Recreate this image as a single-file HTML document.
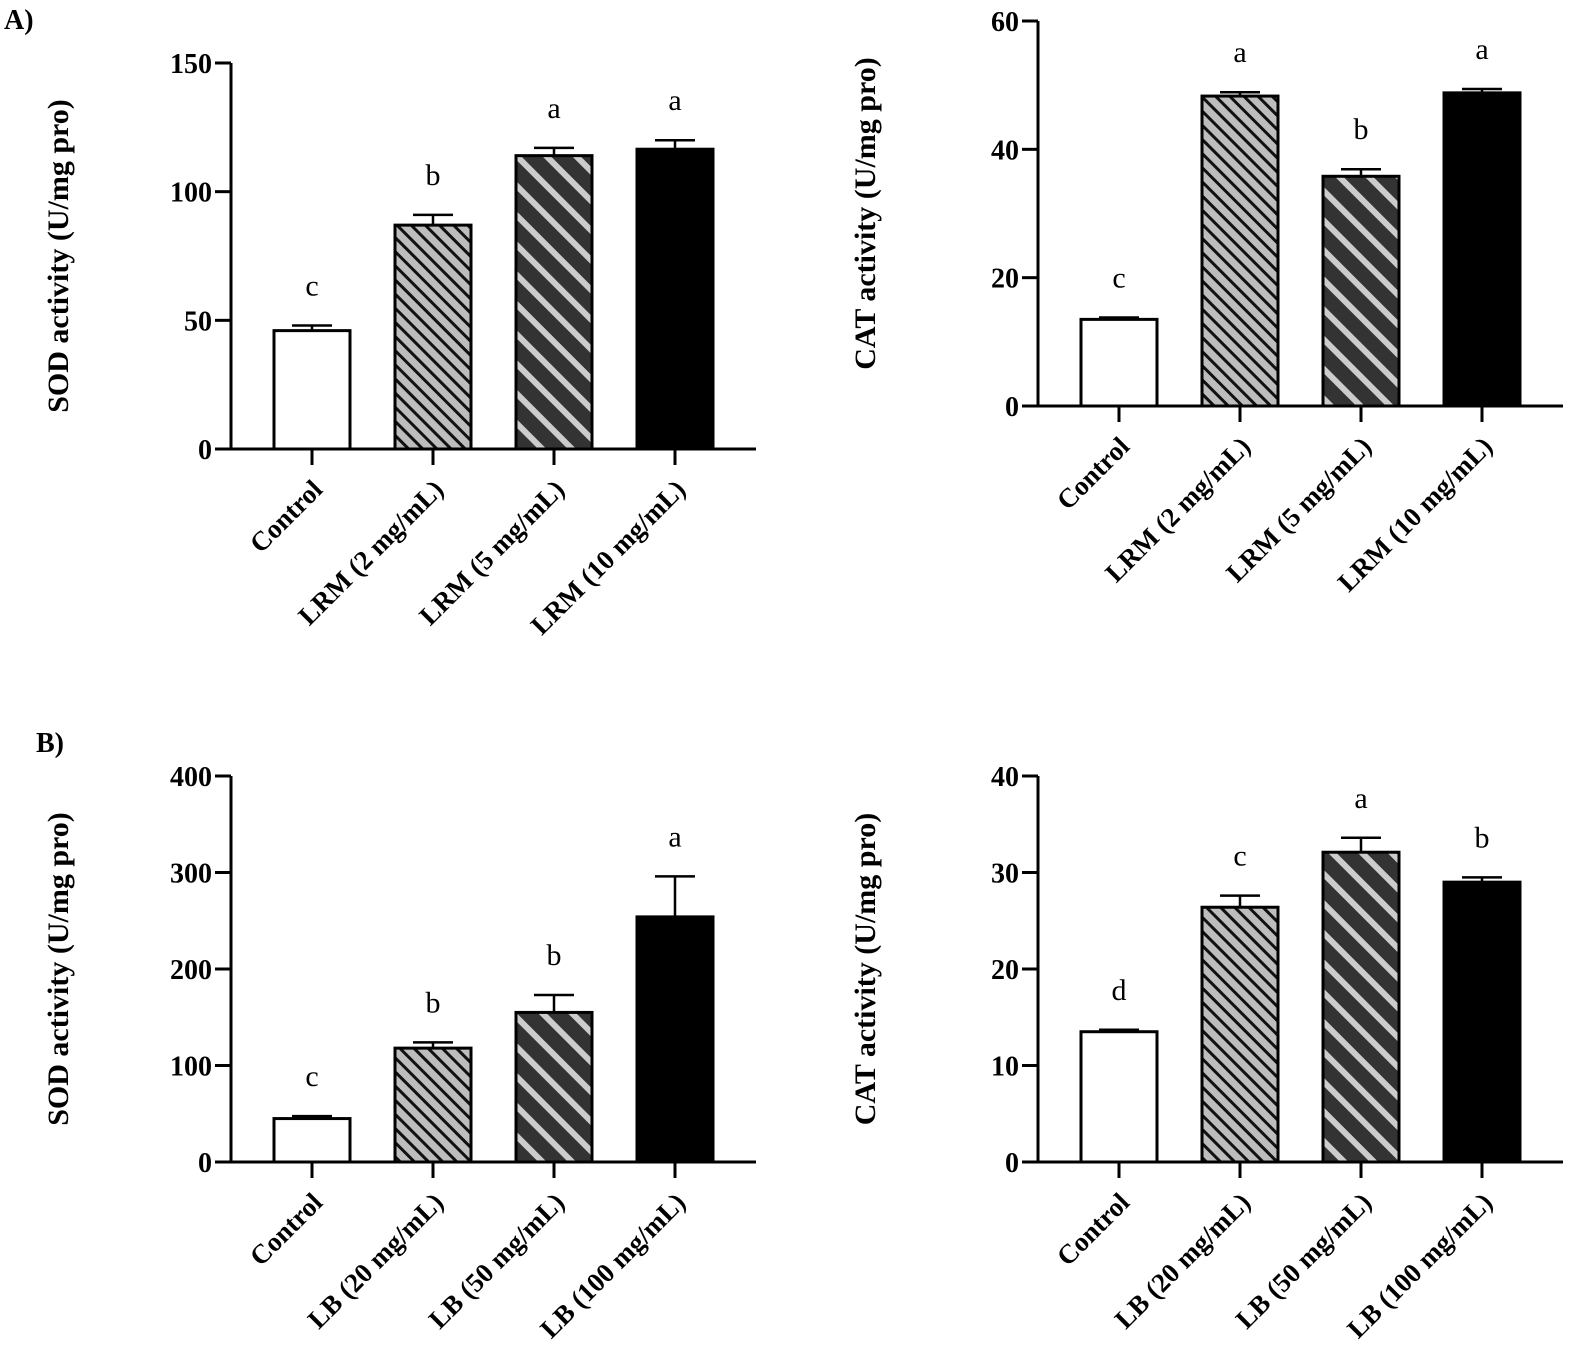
<!DOCTYPE html>
<html><head><meta charset="utf-8"><style>
html,body{margin:0;padding:0;background:#fff;}
svg{display:block;font-family:"Liberation Serif",serif;}
</style></head><body>
<svg id="fig" width="1571" height="1355" viewBox="0 0 1571 1355">
<defs>
<pattern id="p1" patternUnits="userSpaceOnUse" width="10" height="10" patternTransform="rotate(-45)">
<rect width="10" height="10" fill="#bdbdbd"/><rect x="0" y="0" width="3" height="10" fill="#111"/>
</pattern>
<pattern id="p2" patternUnits="userSpaceOnUse" width="21" height="21" patternTransform="rotate(-45)">
<rect width="21" height="21" fill="#333"/><rect x="0" y="0" width="6" height="21" fill="#ccc"/>
</pattern>
</defs>
<text x="4" y="29" font-size="28" font-weight="bold">A)</text>
<text x="36" y="752" font-size="28" font-weight="bold">B)</text>
</svg>
<script>
const fills = ['#fff','url(#p1)','url(#p2)','#000'];
const aSodCats = ['Control','LRM (2 mg/mL)','LRM (5 mg/mL)','LRM (10 mg/mL)'];
const aSodVals = [46, 87, 114, 116.5];
const aSodErr = [2, 4, 3, 3.5];
const aSodLetters = ['c','b','a','a'];
const aSodTicks = [0,50,100,150];
const aCatVals = [13.5, 48.3, 35.8, 48.8];
const aCatErr = [0.3, 0.6, 1.1, 0.6];
const aCatLetters = ['c','a','b','a'];
const aCatTicks = [0,20,40,60];
const bCats = ['Control','LB (20 mg/mL)','LB (50 mg/mL)','LB (100 mg/mL)'];
const bSodVals = [45, 118, 155, 254];
const bSodErr = [2.5, 6, 18, 42];
const bSodLetters = ['c','b','b','a'];
const bSodTicks = [0,100,200,300,400];
const bCatVals = [13.5, 26.4, 32.1, 29];
const bCatErr = [0.2, 1.2, 1.5, 0.5];
const bCatLetters = ['d','c','a','b'];
const bCatTicks = [0,10,20,30,40];

const svg = document.getElementById('fig');
const NS = 'http://www.w3.org/2000/svg';
function mk(tag, attrs, parent){
  const e = document.createElementNS(NS, tag);
  for (const k in attrs) e.setAttribute(k, attrs[k]);
  (parent||svg).appendChild(e); return e;
}
function panel(id, ax, yTop, yBot, xEnd, ticks, cats, vals, errs, letters, title){
  const g = mk('g', {});
  
  
  const max = ticks[ticks.length-1];
  const y = v => yBot - (v/max)*(yBot-yTop);
  const x = i => ax + 81 + i*121;
  cats.forEach((c,i)=>{
    const r = mk('rect', {x: x(i)-38, y: y(vals[i]), width: 76, height: yBot-y(vals[i]), fill: fills[i], stroke:'#000','stroke-width':3}, g);
    
    
    const top = y(vals[i]+errs[i]);
    const e = mk('path', {d:`M${x(i)} ${y(vals[i])} V${top} M${x(i)-20} ${top} H${x(i)+20}`, stroke:'#000','stroke-width':2.5, fill:'none'}, g);
    
    
    const t = mk('text', {x: x(i), y: top-30, 'font-size':30, 'text-anchor':'middle'}, g);
    t.textContent = letters[i];
    
    
    mk('line', {x1:x(i), x2:x(i), y1:yBot, y2:yBot+16, stroke:'#000','stroke-width':3}, g);
    const lbl = mk('text', {x:0, y:0, 'font-size':27, 'font-weight':'bold', 'text-anchor':'end', transform:`translate(${x(i)+12},${yBot+42}) rotate(-45)`}, g);
    lbl.textContent = c;
    
    
  });
  const axes = mk('path', {d:`M${ax} ${yTop} V${yBot} H${xEnd}`, stroke:'#000','stroke-width':3, fill:'none'}, g);
  
  
  ticks.forEach(t=>{
    mk('line', {x1:ax-16, x2:ax, y1:y(t), y2:y(t), stroke:'#000','stroke-width':3}, g);
    const tl = mk('text', {x: ax-19, y: y(t)+10, 'font-size':28, 'font-weight':'bold', 'text-anchor':'end'}, g);
    tl.textContent = t;
    
    
  });
  const yt = mk('text', {x:0, y:0, 'font-size':30, 'font-weight':'bold', 'text-anchor':'middle', transform:`translate(${ax-163},${(yTop+yBot)/2}) rotate(-90)`}, g);
  yt.textContent = title;
  
  
}
panel('sod-lrm-chart', 231, 63, 449, 756, aSodTicks, aSodCats, aSodVals, aSodErr, aSodLetters, 'SOD activity (U/mg pro)');
panel('cat-lrm-chart', 1038, 21, 406, 1563, aCatTicks, aSodCats, aCatVals, aCatErr, aCatLetters, 'CAT activity (U/mg pro)');
panel('sod-lb-chart', 231, 776, 1162, 756, bSodTicks, bCats, bSodVals, bSodErr, bSodLetters, 'SOD activity (U/mg pro)');
panel('cat-lb-chart', 1038, 776, 1162, 1563, bCatTicks, bCats, bCatVals, bCatErr, bCatLetters, 'CAT activity (U/mg pro)');
</script>
</body></html>
